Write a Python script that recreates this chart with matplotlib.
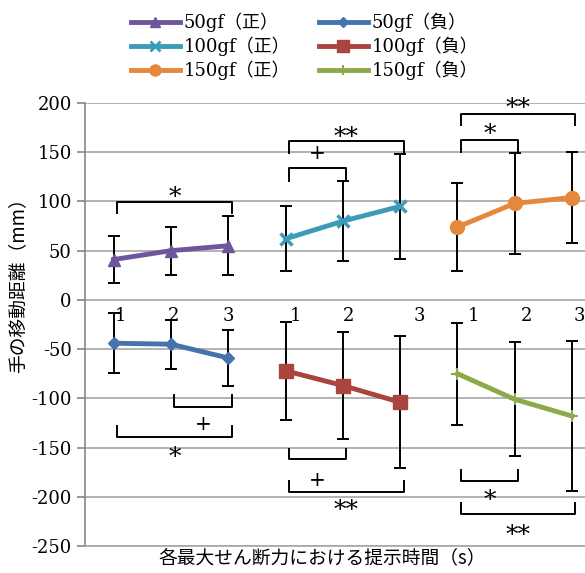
import numpy as np
import matplotlib
matplotlib.use("Agg")
import matplotlib.pyplot as plt
from matplotlib.lines import Line2D

plt.rcParams["axes.unicode_minus"] = False

# values (mm), 3 presentation times per shear force
times = ["1", "2", "3"]
forces = ["50gf", "100gf", "150gf"]

pos_mean = [[41, 50, 55], [62, 80, 95], [74, 98, 104]]
pos_err = [[24, 24.5, 30], [33, 41, 53], [45, 51, 46]]
neg_mean = [[-44, -45, -59], [-72, -87, -104], [-75, -101, -118]]
neg_err = [[30.5, 25, 28], [50, 54, 67], [52, 58, 76]]

pos_colors = ["#6f569c", "#3c9cb8", "#e3883d"]
neg_colors = ["#4673ad", "#a9443f", "#8caa4a"]
pos_markers = ["^", "x", "o"]
neg_markers = ["D", "s", "+"]
pos_msize = [9, 9, 10]
neg_msize = [6, 10, 8]

# significance brackets: (group, i, j, line y, tick end y, label, label y)
brackets = [
    (0, 0, 2, 99, 88, "*", 110),
    (1, 0, 1, 134, 121, "+", 149),
    (1, 0, 2, 161, 149, "**", 171),
    (2, 0, 1, 162, 150, "*", 174),
    (2, 0, 2, 189, 178, "**", 200),
    (0, 1, 2, -109, -97, "+", -127),
    (0, 0, 2, -139, -128, "*", -154),
    (1, 0, 1, -162, -151, "+", -183),
    (1, 0, 2, -195, -184, "**", -208),
    (2, 0, 1, -184, -173, "*", -198),
    (2, 0, 2, -218, -206, "**", -233),
]

# small per-label shifts of the 1/2/3 labels (data units)
label_shift = [0.12, 0.05, 0.0, 0.17, 0.1, 0.33, 0.28, 0.21, 0.12]

serif = ["DejaVu Serif", "Noto Sans CJK JP"]

fig = plt.figure(figsize=(5.85, 5.73), dpi=100)
ax = fig.add_axes([85 / 585, 27 / 573, 515.7 / 585, 443 / 573])

for g in range(3):
    x = np.arange(3) + 3 * g + 1
    ax.errorbar(x, pos_mean[g], yerr=pos_err[g], fmt="none", ecolor="black",
                elinewidth=1.4, capsize=4, capthick=1.4, zorder=3)
    ax.errorbar(x, neg_mean[g], yerr=neg_err[g], fmt="none", ecolor="black",
                elinewidth=1.4, capsize=4, capthick=1.4, zorder=3)
    ax.plot(x, pos_mean[g], color=pos_colors[g], lw=3.5, marker=pos_markers[g],
            ms=pos_msize[g], mew=2.5 if pos_markers[g] == "x" else 1,
            zorder=4, clip_on=False)
    ax.plot(x, neg_mean[g], color=neg_colors[g], lw=3.5, marker=neg_markers[g],
            ms=neg_msize[g], mew=1.5 if neg_markers[g] == "+" else 1,
            zorder=4, clip_on=False)
    for i, t in enumerate(times):
        ax.text(x[i] + label_shift[3 * g + i], -16, t, ha="center", va="center",
                fontsize=13, family=serif)

for g, i, j, yl, yt, lab, ty in brackets:
    x1 = 3 * g + i + 1 + 0.06
    x2 = 3 * g + j + 1 + 0.06
    ax.plot([x1, x1, x2, x2], [yt, yl, yl, yt], color="black", lw=1.4, zorder=3)
    if lab == "+":
        ax.text((x1 + x2) / 2, ty, lab, ha="center", va="center", fontsize=14.5,
                family=serif)
    else:
        # asterisks sit high in the line box, nudge them down
        ax.text((x1 + x2) / 2, ty - 6, lab, ha="center", va="center", fontsize=18,
                family=serif)

ax.set_xlim(0.5, 9.5)
ax.set_ylim(-250, 200)
ax.set_yticks(np.arange(-250, 201, 50))
ax.set_xticks([])
ax.yaxis.grid(True, color="#a6a6a6", lw=1.2)
ax.set_axisbelow(True)
for s in ["top", "right"]:
    ax.spines[s].set_visible(False)
ax.spines["left"].set_color("#868686")
ax.spines["left"].set_linewidth(1.2)
ax.spines["bottom"].set_color("#a6a6a6")
ax.spines["bottom"].set_linewidth(1.2)
ax.tick_params(axis="y", length=6, width=1.2, color="#868686", labelsize=13)
for lbl in ax.get_yticklabels():
    lbl.set_family(serif)

fig.text(18 / 585, 1 - 281 / 573, "手の移動距離（mm）", rotation=90, ha="center",
         va="center", fontsize=13.5, family=["Noto Sans CJK JP", "DejaVu Serif"])
fig.text(322 / 585, 1 - 558 / 573, "各最大せん断力における提示時間（s）", ha="center",
         va="center", fontsize=13.5, family=["Noto Sans CJK JP", "DejaVu Serif"])

handles = []
labels = []
for g in range(3):
    handles.append(Line2D([], [], color=pos_colors[g], lw=3.5, marker=pos_markers[g],
                          ms=pos_msize[g] - 2, mew=2 if pos_markers[g] == "x" else 1))
    labels.append(forces[g] + "（正）")
for g in range(3):
    handles.append(Line2D([], [], color=neg_colors[g], lw=3.5, marker=neg_markers[g],
                          ms=neg_msize[g] - 1, mew=1.5 if neg_markers[g] == "+" else 1))
    labels.append(forces[g] + "（負）")
fig.legend(handles, labels, ncol=2, loc="upper left", bbox_to_anchor=(122 / 585, 1 - 4 / 573),
           frameon=False, prop={"family": serif, "size": 13}, handlelength=2.7,
           handletextpad=0.2, columnspacing=1.6, labelspacing=0.25, borderpad=0)

fig.savefig("out.png", dpi=100)
